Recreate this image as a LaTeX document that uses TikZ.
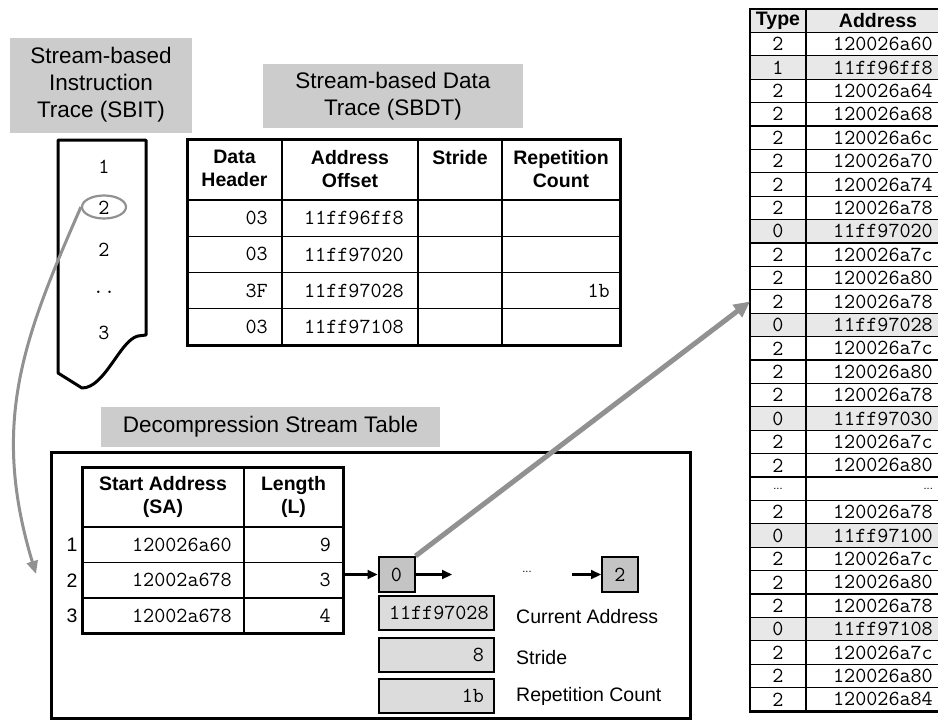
\documentclass[tikz,border=0pt]{standalone}
\usepackage{fontspec}
\setmainfont{Liberation Sans}
\usetikzlibrary{arrows.meta,shapes.geometric}
\definecolor{titlegray}{RGB}{204,204,204}
\definecolor{ptrgray}{RGB}{196,196,196}
\definecolor{reggray}{RGB}{220,220,220}
\definecolor{rowgray}{RGB}{232,232,232}
\definecolor{arrowgray}{RGB}{145,145,145}
\tikzstyle{tbox}=[fill=titlegray, align=center, inner sep=0pt, font=\fontsize{22.5}{27}\selectfont]
\tikzstyle{hd}=[align=center, inner sep=0pt, font=\bfseries\fontsize{19.5}{23}\selectfont]
\tikzstyle{mono}=[inner sep=0pt, font=\ttfamily\fontsize{21.5}{24}\selectfont]
\tikzstyle{lbl}=[inner sep=0pt, font=\fontsize{19.5}{23}\selectfont]
\tikzstyle{ptr}=[draw, line width=2pt, fill=ptrgray, minimum width=36pt, minimum height=35pt, inner sep=0pt, font=\ttfamily\fontsize{21.5}{24}\selectfont]
\tikzstyle{reg}=[draw, line width=2pt, fill=reggray, minimum height=34pt, text width=95pt, inner xsep=10pt, inner ysep=0pt, align=right, font=\ttfamily\fontsize{21.5}{24}\selectfont]
\tikzstyle{grid}=[line width=1.3pt]
\tikzstyle{frame}=[line width=3pt]
\tikzstyle{barrow}=[line width=2.2pt, -{Triangle[length=10pt,width=9pt]}]
\tikzstyle{garrow}=[draw=arrowgray, line width=5pt, -{Triangle[length=16pt,width=15pt]}]
\tikzstyle{gcurve}=[draw=arrowgray, line width=3pt, -{Triangle[length=13pt,width=11pt]}]
\newcommand{\sdots}{{\normalfont\fontsize{11}{11}\selectfont...}}

\begin{document}
\begin{tikzpicture}[x=1pt,y=-1pt]
    \useasboundingbox (0,0) rectangle (938,723);
    % instruction trace
    \node[tbox, minimum width=182pt, minimum height=95pt] (sbitT) at (101,85) {Stream-based\\Instruction\\Trace (SBIT)};
    \draw[frame, line join=round] (58,140) -- (146,140) -- (146,335) -- (138,336)
      .. controls (120,340) and (105,388) .. (82,388) -- (58,373) -- cycle;
    \foreach \t/\y [count=\i] in {1/167, 2/208, 2/250, ../292, 3/333}
      \node[mono] (it\i) at (104,\y) {\t};
    \node[draw=arrowgray, ellipse, line width=2.2pt, minimum width=44pt, minimum height=23pt] (ring) at (104,207) {};
    \coordinate (dstin) at (36,574);
    \draw[gcurve] (ring.west) .. controls (24,337) and (-10,422) .. (dstin);

    % data trace
    \node[tbox, minimum width=260pt, minimum height=64pt] (sbdtT) at (393,96) {Stream-based Data\\Trace (SBDT)};
    \foreach \y in {200,236.25,272.5,308.75}
      \draw[grid] (187,\y) -- (620,\y);
    \foreach \x in {282,418,502}
      \draw[grid] (\x,139) -- (\x,345);
    \draw[frame] (187,139) rectangle (620,345);
    \node[hd, anchor=north] (hdH) at (234.5,150) {Data\\Header};
    \node[hd, anchor=north] (hdO) at (350,150) {Address\\Offset};
    \node[hd, anchor=north] (hdS) at (460,150) {Stride};
    \node[hd, anchor=north] (hdR) at (561,150) {Repetition\\Count};
    \foreach \h/\a [count=\i] in {03/11ff96ff8, 03/11ff97020, 3F/11ff97028, 03/11ff97108} {
      \node[mono, anchor=east] (dh\i) at (268,181.9+36.25*\i) {\h};
      \node[mono, anchor=east] (ao\i) at (404,181.9+36.25*\i) {\a};
    }
    \node[mono, anchor=east] (rc3) at (610,290.6) {1b};

    % decompression stream table
    \node[tbox, minimum width=339pt, minimum height=40pt] (dstT) at (270.5,427) {Decompression Stream Table};
    \draw[frame] (51,452) rectangle (690,718);
    \foreach \y in {527,562.5,598}
      \draw[grid] (82,\y) -- (343,\y);
    \draw[grid] (244,467) -- (244,633.5);
    \draw[frame] (82,467) rectangle (343,633.5);
    \node[hd] (hSA) at (163,497) {Start Address\\(SA)};
    \node[hd] (hL) at (293.5,497) {Length\\(L)};
    \foreach \a/\l [count=\i] in {120026a60/9, 12002a678/3, 12002a678/4} {
      \node[lbl] (rn\i) at (72,509.25+35.5*\i) {\i};
      \node[mono, anchor=east] (sa\i) at (232,509.25+35.5*\i) {\a};
      \node[mono, anchor=east] (ln\i) at (331,509.25+35.5*\i) {\l};
    }
    \node[ptr] (p0) at (396.5,574.5) {0};
    \node[ptr] (p2) at (620,574.5) {2};
    \coordinate (t2) at (343,574.5);
    \coordinate (p0n) at (452,574.5);
    \coordinate (p2p) at (572,574.5);
    \node[lbl] (gap) at (527,572) {\sdots};
    \draw[barrow] (t2) -- (p0);
    \draw[barrow] (p0) -- (p0n);
    \draw[barrow] (p2p) -- (p2);
    \node[reg, align=center] (cur) at (436.5,613) {11ff97028};
    \node[reg] (str) at (436.5,654.5) {8};
    \node[reg] (rep) at (436.5,695.5) {1b};
    \node[lbl, anchor=west] (curL) at (516,617) {Current Address};
    \node[lbl, anchor=west] (strL) at (516,658) {Stride};
    \node[lbl, anchor=west] (repL) at (516,696) {Repetition Count};

    % decompressed trace
    \fill[rowgray] (750,9) rectangle (950,32.4);
    \foreach \i in {2,9,13,17,22,26}
      \fill[rowgray] (750,9+23.4*\i) rectangle (950,32.4+23.4*\i);
    \foreach \k in {1,...,29}
      \draw[grid] (750,9+23.4*\k) -- (950,9+23.4*\k);
    \draw[grid] (806,9) -- (806,711.6);
    \draw[line width=2.5pt] (950,9) -- (750,9) -- (750,711.6) -- (950,711.6);
    \node[hd] (tyH) at (778,20.7) {Type};
    \node[hd] (adH) at (878,20.7) {Address};
    \foreach \t/\a [count=\i] in {2/120026a60, 1/11ff96ff8, 2/120026a64, 2/120026a68, 2/120026a6c,
        2/120026a70, 2/120026a74, 2/120026a78, 0/11ff97020, 2/120026a7c, 2/120026a80,
        2/120026a78, 0/11ff97028, 2/120026a7c, 2/120026a80, 2/120026a78, 0/11ff97030,
        2/120026a7c, 2/120026a80, \sdots/\sdots, 2/120026a78, 0/11ff97100, 2/120026a7c,
        2/120026a80, 2/120026a78, 0/11ff97108, 2/120026a7c, 2/120026a80, 2/120026a84} {
      \node[mono] (ty\i) at (778,20.7+23.4*\i) {\t};
      \node[mono, anchor=east] (ad\i) at (933,20.7+23.4*\i) {\a};
    }
    \coordinate (r12) at (750,301.5);
    \draw[garrow] (p0.north east) -- (r12);
\end{tikzpicture}
\end{document}
